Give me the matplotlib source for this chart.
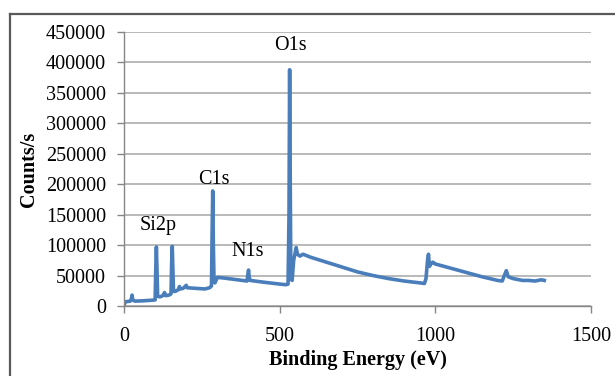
"""XPS survey spectrum: counts vs binding energy"""
import numpy as np
import matplotlib
matplotlib.use('Agg')
from matplotlib import pyplot as plt
from matplotlib.lines import Line2D

# binding energy (eV) and counts/s
energy = [0, 5, 20, 24, 26, 28, 35, 60, 90, 100, 102, 104, 106, 108, 115, 125, 130, 135,
          145, 151, 153, 155, 157, 159, 165, 175, 178, 181, 190, 200, 203, 230, 260, 275,
          281, 283, 285, 287, 289, 292, 300, 320, 350, 380, 395, 398, 400, 402, 405, 450,
          500, 520, 527, 530, 532, 534, 536, 540, 545, 553, 557, 565, 575, 600, 650, 700,
          750, 800, 850, 900, 950, 965, 970, 975, 978, 981, 987, 992, 1000, 1050, 1100,
          1150, 1200, 1215, 1220, 1228, 1234, 1250, 1280, 1300, 1320, 1340, 1350]
counts = [2000, 7000, 8000, 12000, 18000, 10000, 8000, 8500, 9500, 10000, 60000, 97000,
          60000, 16000, 15000, 17000, 22000, 17000, 18000, 20000, 70000, 98000, 60000,
          24000, 24000, 27000, 32000, 28000, 29000, 34000, 30000, 29000, 28000, 30000,
          33000, 120000, 189000, 100000, 45000, 38000, 47000, 46000, 44000, 42000, 41000,
          52000, 59000, 48000, 42000, 39000, 36000, 35000, 36000, 150000, 388000, 200000,
          45000, 42000, 75000, 96000, 85000, 82000, 85000, 80000, 72000, 64000, 56000,
          50000, 45000, 41000, 38000, 37000, 45000, 75000, 85000, 65000, 70000, 72000,
          69000, 62000, 55000, 48000, 42000, 41000, 48000, 58000, 48000, 45000, 42000,
          42000, 41000, 43000, 42000]

peak_names = ['O1s', 'C1s', 'Si2p', 'N1s']
peak_x = [535, 289, 110, 398]
peak_y = [428000, 208000, 133000, 89000]

xticks = [0, 500, 1000, 1500]
yticks = list(range(0, 450001, 50000))

plt.rcParams['font.family'] = ['Liberation Serif', 'DejaVu Serif']
FS = 14.5

fig = plt.figure(figsize=(6.15, 3.76), dpi=100)
ax = fig.add_axes([124 / 615, 1 - 306 / 376, (591 - 124) / 615, (306 - 32) / 376])

ax.plot(energy, counts, color='#4a7ebb', linewidth=2.6, solid_joinstyle='round')

ax.set_xlim(0, 1500)
ax.set_ylim(0, 450000)
ax.set_xticks(xticks)
ax.set_yticks(yticks)
ax.yaxis.grid(True, color='#a6a6a6', linewidth=1.1)
ax.set_axisbelow(True)
for s in ['top', 'right']:
    ax.spines[s].set_visible(False)
for s in ['left', 'bottom']:
    ax.spines[s].set_color('#868686')
    ax.spines[s].set_linewidth(1.0)
ax.tick_params(axis='both', colors='#868686', labelcolor='black', labelsize=FS,
               length=5, width=1.0, direction='out')
ax.tick_params(axis='y', pad=8)
ax.tick_params(axis='x', pad=10)

for name, px, py in zip(peak_names, peak_x, peak_y):
    ax.text(px, py, name, ha='center', va='center', fontsize=FS)

ax.set_xlabel('Binding Energy (eV)', fontsize=FS, fontweight='bold', labelpad=3)
ax.set_ylabel('Counts/s', fontsize=FS, fontweight='bold', labelpad=5)

# chart-area frame (left and top edges only are in view)
fig.add_artist(Line2D([9.5 / 615, 9.5 / 615], [0, 1 - 14 / 376], color='#595959', linewidth=1.6))
fig.add_artist(Line2D([9.5 / 615, 1], [1 - 14 / 376, 1 - 14 / 376], color='#595959', linewidth=1.6))

plt.savefig('out.png', dpi=100)
